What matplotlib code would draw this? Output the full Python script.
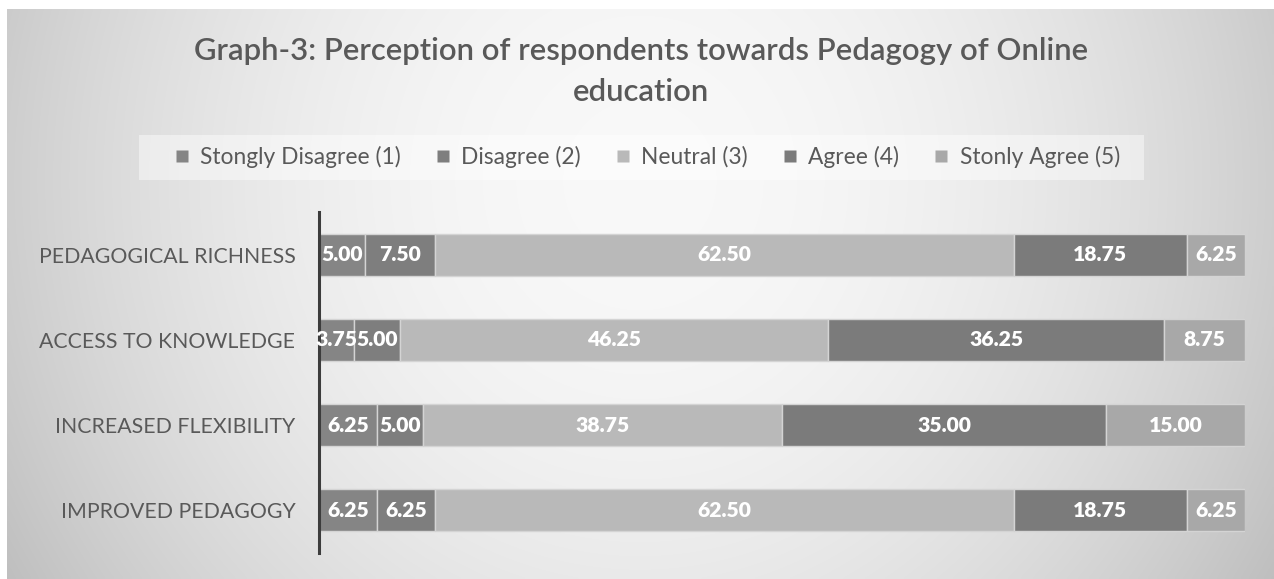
import matplotlib
matplotlib.use('Agg')
import matplotlib.pyplot as plt
import numpy as np
from matplotlib.patches import Rectangle
from matplotlib.lines import Line2D

# ---------------- data ----------------
categories = ["PEDAGOGICAL RICHNESS", "ACCESS TO KNOWLEDGE",
              "INCREASED FLEXIBILITY", "IMPROVED PEDAGOGY"]
series_names = ["Stongly Disagree (1)", "Disagree (2)", "Neutral (3)",
                "Agree (4)", "Stonly Agree (5)"]
strongly_disagree = [5.00, 3.75, 6.25, 6.25]
disagree = [7.50, 5.00, 5.00, 6.25]
neutral = [62.50, 46.25, 38.75, 62.50]
agree = [18.75, 36.25, 35.00, 18.75]
strongly_agree = [6.25, 8.75, 15.00, 6.25]
title_text = "Graph-3: Perception of respondents towards Pedagogy of Online\neducation"

series_values = [strongly_disagree, disagree, neutral, agree, strongly_agree]
colors = ["#858585", "#7e7e7e", "#b9b9b9", "#7b7b7b", "#a8a8a8"]
FONT = ["Lato", "DejaVu Sans"]
TXT = "#595959"

W, H = 1274, 579
fig = plt.figure(figsize=(W / 100, H / 100), dpi=100, facecolor="white")
renderer = fig.canvas.get_renderer()


def fit(s, target, weight="normal"):
    t = fig.text(0, 0, s, fontsize=10, fontweight=weight, family=FONT)
    w = t.get_window_extent(renderer).width
    t.remove()
    return 10 * target / w


# ---------------- background gradient ----------------
bx0, by_top = 7, 9
bg = fig.add_axes([bx0 / W, 0, 1 - bx0 / W, 1 - by_top / H], zorder=-10)
xs = np.linspace(bx0, W, 400)
ys = np.linspace(by_top, H, 200)
X, Y = np.meshgrid(xs, ys)
dx = (X - 640) / 640
dy = (Y - 180) / 400
v = 0.975 - 0.17 * dx ** 2 - 0.06 * dy ** 2
v = np.clip(v, 0, 1)
bg.imshow(np.dstack([v, v, v]), aspect="auto", extent=[0, 1, 0, 1], interpolation="bilinear")
bg.set_axis_off()

# ---------------- title ----------------
title_fs = fit(title_text.split("\n")[0], 897, weight="semibold")
fig.text(641 / W, 1 - 101 / H, title_text, ha="center", va="baseline",
         multialignment="center",
         fontsize=title_fs, fontweight="semibold", color=TXT, family=FONT,
         linespacing=1.55)

# ---------------- legend box ----------------
fig.patches.append(Rectangle((139 / W, 1 - 180 / H), (1144 - 139) / W, 45 / H,
                             transform=fig.transFigure, facecolor="white",
                             alpha=0.45, edgecolor="none", zorder=-5))

# ---------------- main axes ----------------
ax_left, ax_right = 319, 1245
ax_top, ax_bottom = 212, 553
ax = fig.add_axes([ax_left / W, 1 - ax_bottom / H, (ax_right - ax_left) / W,
                   (ax_bottom - ax_top) / H])
ax.set_facecolor("none")

ypos = np.arange(len(categories))
label_fs = fit("62.50", 54, weight="heavy")
left = np.zeros(len(categories))
handles = []
for name, vals, col in zip(series_names, series_values, colors):
    vals = np.array(vals)
    ax.barh(ypos, vals, left=left, height=0.49, color=col,
            edgecolor="#d4d4d4", linewidth=1.0, label=name)
    for yi, (l, w) in enumerate(zip(left, vals)):
        ax.text(l + w / 2, yi, f"{w:.2f}", ha="center", va="center",
                color="white", fontsize=label_fs, fontweight="heavy", family=FONT)
    left = left + vals
    handles.append(Line2D([], [], marker="s", linestyle="none", markersize=8.5,
                          markerfacecolor=col, markeredgecolor="none"))

ax.set_xlim(0, 100)
ax.set_ylim(len(categories) - 0.5, -0.5)
ax.set_yticks(ypos)
cat_fs = fit(categories[0], 254)
ax.set_yticklabels(categories, fontsize=cat_fs, color=TXT, family=FONT)
ax.tick_params(axis="y", length=0, pad=17)
ax.set_xticks([])
for s in ["top", "right", "bottom"]:
    ax.spines[s].set_visible(False)
ax.spines["left"].set_color("#3c3c3c")
ax.spines["left"].set_linewidth(2.2)

# ---------------- legend ----------------
leg_fs = fit(series_names[0], 200)
leg = fig.legend(handles, series_names, loc="center", ncol=5,
                 bbox_to_anchor=(647 / W, 1 - 157 / H), frameon=False,
                 handlelength=0.7, handletextpad=0.45,
                 columnspacing=1.5, prop={"family": FONT, "size": leg_fs})
for t in leg.get_texts():
    t.set_color(TXT)

fig.savefig("out.png", dpi=100, facecolor="white")
